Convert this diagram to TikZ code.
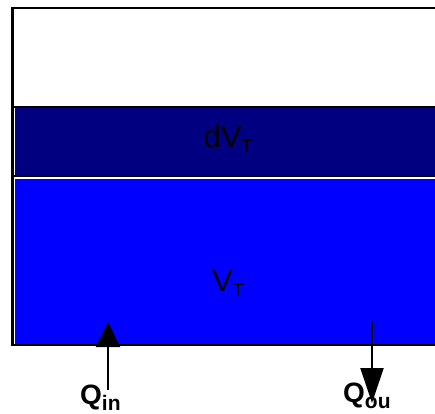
\documentclass[tikz,border=0pt]{standalone}
\usepackage{fontspec}
\setmainfont{Liberation Sans}
\usetikzlibrary{arrows.meta}
\definecolor{navyband}{RGB}{0,0,128}
\definecolor{blueband}{RGB}{0,0,255}
\newcommand{\vidx}[1]{\raisebox{-5pt}{\fontsize{18}{18}\selectfont #1}}
\newcommand{\qidx}[1]{\raisebox{-6pt}{\fontsize{21}{21}\selectfont\bfseries #1}}
\tikzset{band/.style={draw=white, line width=1pt},
wall/.style={line width=2.8pt},
vol_t/.style={inner sep=0pt, font=\fontsize{31}{33}\selectfont},
q_t/.style={inner sep=0pt, font=\fontsize{28}{30}\selectfont\bfseries},
inflow/.style={-{Triangle[length=25pt, width=24pt]}, line width=2.2pt},
outflow/.style={-{Triangle[length=35pt, width=23pt]}, line width=2.2pt}}

\begin{document}
\begin{tikzpicture}[x=1pt, y=1pt]
  \useasboundingbox (0,0) rectangle (435,413);
  % layers
  \path[band, fill=navyband] (14.5,237) rectangle (445,306);
  \path[band, fill=blueband] (14.5,69) rectangle (445,235);
  % tank walls
  \draw[wall] (11,306) -- (440,306);
  \draw[wall] (12,237) -- (440,237);
  \draw[wall] (440,405) -- (12.5,405) -- (12.5,68) -- (440,68);
  % volumes
  \node[vol_t, anchor=base] (dvt) at (228,266) {dV\vidx{T}};
  \node[vol_t, anchor=base] (vt) at (228,122) {V\vidx{T}};
  % flows
  \node[q_t, anchor=base west] (qin) at (80,9) {Q\qidx{in}};
  \node[q_t, anchor=base west] (qou) at (343,11) {Q\qidx{ou}};
  \coordinate (inbot) at (108,23);
  \coordinate (intip) at (108,91);
  \coordinate (outtop) at (372,92);
  \coordinate (outtip) at (372,10);
  \draw[inflow] (inbot) -- (intip);
  \draw[outflow] (outtop) -- (outtip);
\end{tikzpicture}
\end{document}
